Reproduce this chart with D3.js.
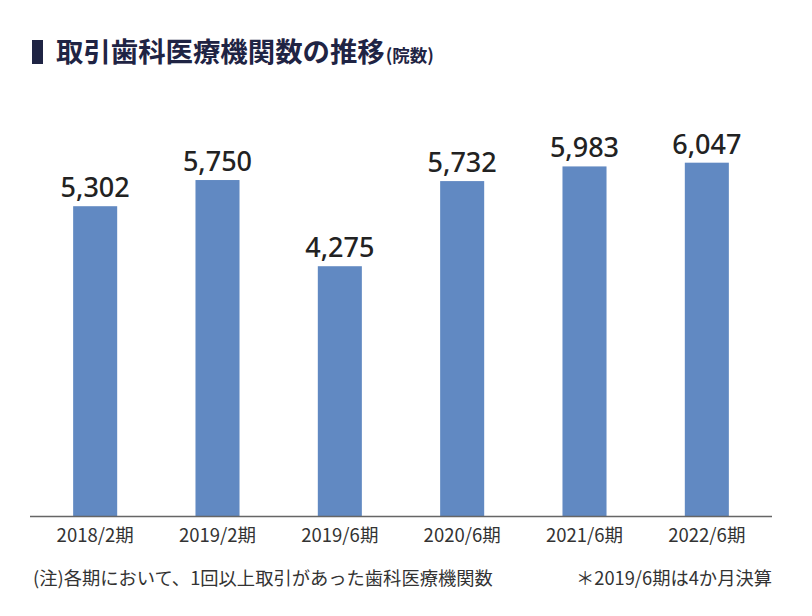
<!DOCTYPE html>
<html><head><meta charset="utf-8">
<script src="https://cdn.jsdelivr.net/npm/d3@7"></script>
<style>body{margin:0;background:#fff}svg{display:block}</style>
</head><body>
<svg id="c" width="812" height="616"></svg>
<script>
const categories = ["2018/2期","2019/2期","2019/6期","2020/6期","2021/6期","2022/6期"];
const values = [5302,5750,4275,5732,5983,6047];
const titleMain = "取引歯科医療機関数の推移";
const titleUnit = "(院数)";
const noteLeft = "(注)各期において、1回以上取引があった歯科医療機関数";
const noteRight = "＊2019/6期は4か月決算";

const svg = d3.select("#c");
const x = d3.scaleBand().domain(categories).range([34,768]).paddingInner(0.64).paddingOuter(0.32);
const y = d3.scaleLinear().domain([0,7000]).range([516,107]);

// title
svg.append("rect").attr("x",32).attr("y",40).attr("width",11).attr("height",24).attr("fill","#1f2444");
const t = svg.append("text").attr("x",56).attr("y",62)
  .attr("font-family","'Noto Sans CJK JP'").attr("fill","#1f2444");
t.append("tspan").attr("font-size",27.4).attr("font-weight",700).text(titleMain);
t.append("tspan").attr("font-size",17.5).attr("font-weight",700).attr("dx",1).text(titleUnit);

// bars
svg.selectAll("rect.bar").data(values).join("rect").attr("class","bar")
  .attr("x",(d,i)=>x(categories[i])).attr("width",x.bandwidth())
  .attr("y",d=>y(d)).attr("height",d=>y(0)-y(d)).attr("fill","#6189c2");

// value labels
svg.selectAll("text.val").data(values).join("text").attr("class","val")
  .attr("x",(d,i)=>x(categories[i])+x.bandwidth()/2).attr("y",d=>y(d)-9)
  .attr("text-anchor","middle").attr("font-family","'Noto Sans'").attr("font-size",27)
  .attr("font-weight",500).attr("fill","#222").text(d=>d3.format(",")(d));

// axis
const ax = svg.append("g").attr("transform","translate(0,516)")
  .call(d3.axisBottom(x).tickSize(0).tickPadding(13));
ax.select(".domain").attr("d","M30,0.5H772").attr("stroke","#666").attr("stroke-width",1.5);
ax.selectAll("text").attr("font-family","'Noto Sans CJK JP'").attr("font-size",18.5).attr("fill","#333");

// notes
svg.append("text").attr("x",33).attr("y",585).attr("font-family","'Noto Sans CJK JP'")
  .attr("font-size",18.3).attr("fill","#333").text(noteLeft);
svg.append("text").attr("x",772).attr("y",585).attr("text-anchor","end").attr("font-family","'Noto Sans CJK JP'")
  .attr("font-size",18.3).attr("fill","#333").text(noteRight);
</script>
</body></html>
